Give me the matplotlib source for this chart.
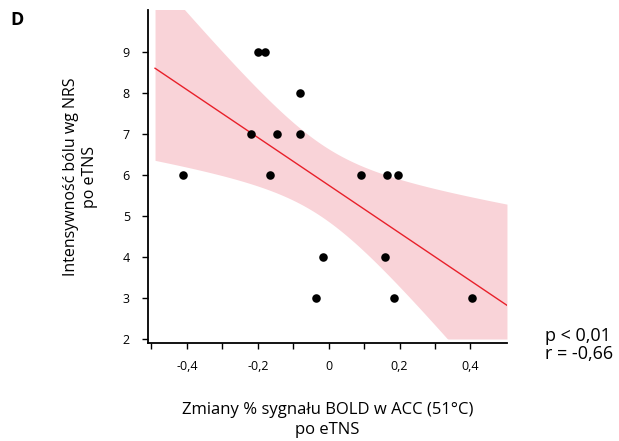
import numpy as np
import matplotlib
matplotlib.use("Agg")
import matplotlib.pyplot as plt

plt.rcParams['font.family'] = ['Open Sans', 'DejaVu Sans']

# BOLD signal change in ACC (51°C) after eTNS vs. NRS pain intensity after eTNS
bold_change = [-0.41, -0.20, -0.18, -0.22, -0.145, -0.165, -0.08, -0.08,
               0.09, 0.165, 0.195, -0.015, -0.035, 0.16, 0.185, 0.405]
nrs_pain = [6, 9, 9, 7, 7, 6, 8, 7, 6, 6, 6, 4, 3, 4, 3, 3]

x_ticks = [-0.5, -0.4, -0.3, -0.2, -0.1, 0.0, 0.1, 0.2, 0.3, 0.4]
x_labels = ['', '-0,4', '', '-0,2', '', '0', '', '0,2', '', '0,4']
y_ticks = [2, 3, 4, 5, 6, 7, 8, 9]
stats_text = "p < 0,01\nr = -0,66"

x = np.asarray(bold_change, dtype=float)
y = np.asarray(nrs_pain, dtype=float)

# ordinary least squares fit with 95% confidence band for the mean
n = len(x)
xm, ym = x.mean(), y.mean()
sxx = np.sum((x - xm) ** 2)
slope = np.sum((x - xm) * (y - ym)) / sxx
intercept = ym - slope * xm
resid = y - (intercept + slope * x)
s = np.sqrt(np.sum(resid ** 2) / (n - 2))
t_crit = 2.1448  # t(0.975, df=14)

xg = np.linspace(-0.49, 0.503, 300)
yg = intercept + slope * xg
half = t_crit * s * np.sqrt(1.0 / n + (xg - xm) ** 2 / sxx)
lower = np.clip(yg - half, 2.0, None)
upper = yg + half

fig = plt.figure(figsize=(6.19, 4.41), dpi=100)
ax = fig.add_axes([0.239, 0.222, 0.580, 0.755])

ax.fill_between(xg, lower, upper, color='#f9d3d8', linewidth=0, zorder=1)
ax.plot(xg, yg, color='#e8202a', linewidth=1.0, zorder=2)
ax.scatter(x, y, s=38, color='black', zorder=3, linewidths=0, clip_on=False)

ax.set_xlim(-0.51, 0.503)
ax.set_ylim(1.9, 10.03)

ax.set_xticks(x_ticks)
ax.set_xticklabels(x_labels)
ax.set_yticks(y_ticks)
ax.set_yticklabels([str(v) for v in y_ticks])

for side in ('top', 'right'):
    ax.spines[side].set_visible(False)
for side in ('left', 'bottom'):
    ax.spines[side].set_linewidth(1.3)
ax.tick_params(axis='both', length=4, width=1.0, labelsize=9, color='black')
ax.tick_params(axis='x', pad=8)
ax.tick_params(axis='y', pad=9)

ax.set_xlabel("Zmiany % sygnału BOLD w ACC (51°C)\npo eTNS", fontsize=12,
              labelpad=21, linespacing=1.3)
ax.set_ylabel("Intensywność bólu wg NRS\npo eTNS", fontsize=11.5,
              labelpad=18, linespacing=1.25)

fig.text(0.880, 0.217, stats_text, fontsize=13, ha='left', va='center',
         linespacing=1.0)
fig.text(0.016, 0.955, "D", fontsize=13, fontweight='bold', ha='left', va='center')

fig.savefig("out.png", dpi=100)
